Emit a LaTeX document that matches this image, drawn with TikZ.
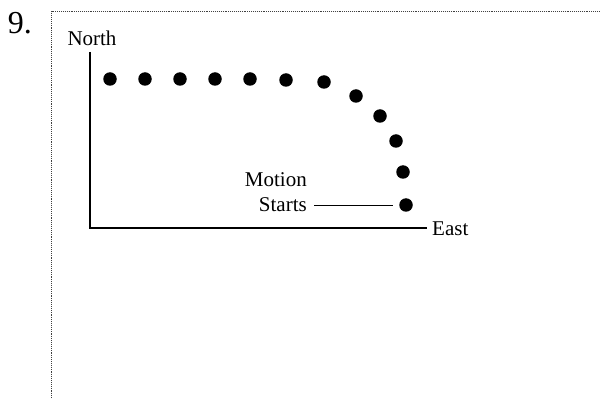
\documentclass[tikz,border=0pt]{standalone}
\usepackage{fontspec}
\setmainfont{Liberation Serif}
\begin{document}
\begin{tikzpicture}[x=1pt,y=-1pt,
  dot/.style={circle,fill=black,inner sep=0pt,minimum size=13.5pt},
  lbl/.style={inner sep=0pt,font=\fontsize{21}{23}\selectfont},
  axis/.style={line width=1.1pt,black},
  frame/.style={densely dotted,line width=0.9pt,black!75}]
\useasboundingbox (0,0) rectangle (600,398);
\node[inner sep=0pt,font=\fontsize{32}{34}\selectfont] (num) at (20,23) {9.};
\draw[frame] (51,398) -- (51,11) -- (600,11);
\coordinate (top) at (90,52);
\coordinate (corner) at (90,228);
\coordinate (right) at (427,228);
\draw[axis] (top) -- (corner) -- (right);
\node[lbl,anchor=south] (north) at (92,46) {North};
\node[lbl,anchor=west] (east) at (432,229) {East};
\foreach \i/\x/\y in {1/110/79,2/145/79,3/180/79,4/215/79,5/250/79,6/286/80,7/324/82,8/356/96,9/380/116,10/396/141,11/403/172,12/406/205}
  \node[dot] (d\i) at (\x,\y) {};
\node[lbl,anchor=east] (motion) at (307,180) {Motion};
\node[lbl,anchor=east] (starts) at (307,205) {Starts};
\draw[line width=0.9pt] ([xshift=7pt]starts.east) -- ([xshift=-6pt]d12.west);
\end{tikzpicture}
\end{document}
